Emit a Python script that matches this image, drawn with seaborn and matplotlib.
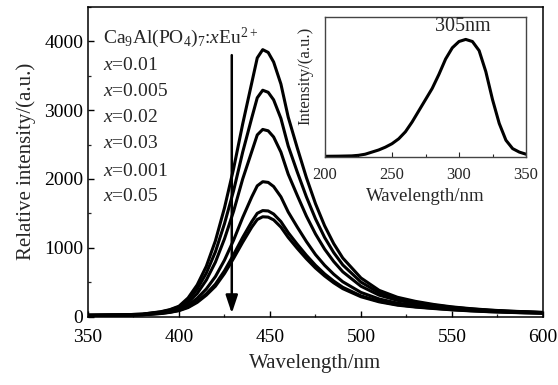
import numpy as np
import pandas as pd
import matplotlib
matplotlib.use("Agg")
import matplotlib.pyplot as plt
from matplotlib.ticker import MultipleLocator
import seaborn as sns

# ---------------- data ----------------
wavelength = [350, 370, 380, 390, 395, 400, 405, 410, 415, 420, 425, 430, 435, 440, 443, 446,
              449, 452, 456, 460, 465, 470, 475, 480, 485, 490, 500, 510, 520, 530, 540, 550,
              560, 570, 580, 590, 600]
conc_labels = ["x=0.01", "x=0.005", "x=0.02", "x=0.03", "x=0.001", "x=0.05"]
int_001 = [20, 25, 35, 70, 100, 150, 270, 460, 730, 1100, 1580, 2150, 2800, 3400, 3760, 3880,
           3840, 3700, 3380, 2900, 2450, 2020, 1640, 1320, 1060, 850, 560, 380, 280, 220, 175, 140,
           115, 95, 80, 70, 60]
int_0005 = [20, 25, 35, 65, 95, 140, 240, 400, 630, 940, 1350, 1830, 2390, 2890, 3180, 3290,
            3260, 3150, 2880, 2480, 2100, 1740, 1420, 1150, 930, 750, 500, 345, 255, 205, 165, 135,
            110, 92, 78, 68, 58]
int_002 = [18, 22, 30, 58, 85, 125, 205, 335, 530, 790, 1130, 1530, 2000, 2400, 2640, 2720,
           2700, 2610, 2390, 2070, 1760, 1460, 1200, 980, 800, 650, 440, 310, 235, 190, 155, 128,
           105, 88, 75, 65, 56]
int_003 = [15, 20, 28, 50, 72, 105, 165, 265, 400, 580, 820, 1110, 1440, 1740, 1900, 1960,
           1950, 1890, 1740, 1520, 1300, 1090, 900, 745, 615, 505, 350, 255, 195, 160, 135, 112,
           95, 80, 70, 61, 53]
int_0001 = [14, 18, 26, 45, 63, 90, 140, 220, 330, 470, 665, 900, 1150, 1380, 1500, 1540,
            1535, 1490, 1380, 1220, 1050, 890, 745, 620, 515, 425, 300, 222, 172, 142, 120, 100,
            85, 72, 63, 55, 48]
int_005 = [13, 17, 25, 43, 60, 85, 130, 205, 310, 440, 625, 845, 1080, 1300, 1410, 1450,
           1445, 1405, 1300, 1150, 990, 840, 705, 590, 490, 405, 287, 213, 165, 137, 116, 97,
           82, 70, 61, 53, 47]

exc_wavelength = [200, 210, 220, 225, 230, 235, 240, 245, 250, 255, 260, 265, 270, 275, 280,
                  285, 290, 295, 300, 305, 310, 315, 320, 325, 330, 335, 340, 345, 350]
exc_intensity = [0.005, 0.006, 0.008, 0.012, 0.02, 0.035, 0.05, 0.07, 0.095, 0.13, 0.18, 0.25,
                 0.33, 0.41, 0.49, 0.59, 0.70, 0.78, 0.825, 0.84, 0.825, 0.76, 0.61, 0.41, 0.24,
                 0.12, 0.06, 0.035, 0.02]

x_ticks = [350, 400, 450, 500, 550, 600]
y_ticks = [0, 1000, 2000, 3000, 4000]
inset_ticks = [200, 250, 300, 350]

# ---------------- style ----------------
sns.set_theme(style="ticks")
plt.rcParams["font.family"] = ["Liberation Serif", "DejaVu Serif"]
plt.rcParams["mathtext.fontset"] = "custom"
plt.rcParams["mathtext.rm"] = "Liberation Serif"
plt.rcParams["mathtext.it"] = "Liberation Serif:italic"
plt.rcParams["axes.linewidth"] = 1.1
plt.rcParams["xtick.direction"] = "in"
plt.rcParams["ytick.direction"] = "in"

series = [int_001, int_0005, int_002, int_003, int_0001, int_005]
frames = []
for lab, vals in zip(conc_labels, series):
    frames.append(pd.DataFrame({"wavelength": wavelength, "intensity": vals, "conc": lab}))
df = pd.concat(frames, ignore_index=True)

fig = plt.figure(figsize=(5.58, 3.85), dpi=100)
ax = fig.add_axes([0.1577, 0.1779, 0.8154, 0.8039])

sns.lineplot(data=df, x="wavelength", y="intensity", hue="conc", hue_order=conc_labels,
             palette=["black"] * 6, linewidth=2.2, legend=False, ax=ax)

ax.set_xlim(350, 600)
ax.set_ylim(0, 4500)
ax.set_xticks(x_ticks)
ax.set_yticks(y_ticks)
ax.xaxis.set_minor_locator(MultipleLocator(25))
ax.yaxis.set_minor_locator(MultipleLocator(500))
ax.tick_params(which="major", length=4.5, width=1.0, labelsize=14, colors="black")
ax.tick_params(which="minor", length=2.5, width=0.9)
ax.tick_params(axis="x", which="major", pad=9)
ax.set_xlabel("Wavelength/nm", fontsize=15, labelpad=6)
ax.set_ylabel("Relative intensity/(a.u.)", fontsize=15, labelpad=6)
for s in ax.spines.values():
    s.set_color("black")

# text block
ax.text(358, 4045, r"Ca$_9$Al(PO$_4$)$_7$:$x$Eu$^{2+}$", fontsize=14, va="center", ha="left")
rows = [r"$x$=0.01", r"$x$=0.005", r"$x$=0.02", r"$x$=0.03", r"$x$=0.001", r"$x$=0.05"]
row_y = [3650, 3270, 2890, 2510, 2110, 1750]
for t, yy in zip(rows, row_y):
    ax.text(358, yy, t, fontsize=14, va="center", ha="left")

# arrow
ax.annotate("", xy=(429, 45), xytext=(429, 3800),
            arrowprops=dict(arrowstyle="-|>,head_length=0.9,head_width=0.3", color="black",
                            lw=1.8, shrinkA=0, shrinkB=0))

# ---------------- inset ----------------
axi = fig.add_axes([0.5824, 0.5922, 0.3603, 0.3636])
sns.lineplot(x=exc_wavelength, y=exc_intensity, color="black", linewidth=2.2, ax=axi)
axi.set_xlim(200, 350)
axi.set_ylim(0, 1.0)
axi.set_xticks(inset_ticks)
axi.xaxis.set_minor_locator(MultipleLocator(25))
axi.set_yticks([])
axi.tick_params(which="major", length=3.5, width=0.8, labelsize=12, pad=7)
axi.tick_params(which="minor", length=2.5, width=0.8)
axi.set_xlabel("Wavelength/nm", fontsize=13.5, labelpad=4)
axi.set_ylabel("Intensity/(a.u.)", fontsize=12)
axi.yaxis.set_label_coords(-0.06, 0.58)
for s in axi.spines.values():
    s.set_color("#444444")
    s.set_linewidth(1.0)
axi.text(303, 0.93, "305nm", fontsize=14.5, ha="center", va="center")

fig.savefig("out.png", dpi=100)
